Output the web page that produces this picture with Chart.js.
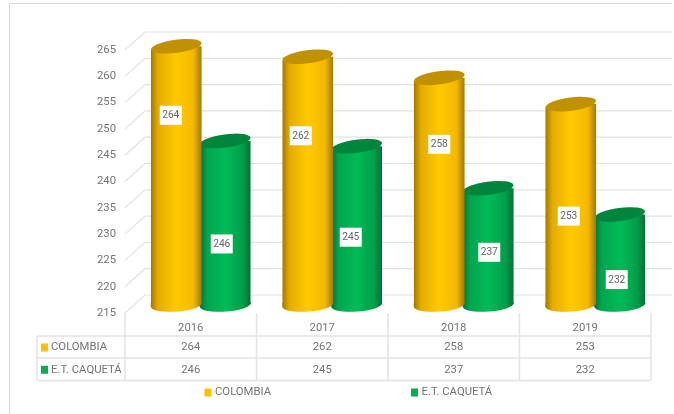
<!DOCTYPE html>
<html><head><meta charset="utf-8">
<style>html,body{margin:0;padding:0;background:#fff}#w{position:relative;width:674px;height:414px}canvas{display:block;filter:blur(.35px)}</style>
<script src="https://cdn.jsdelivr.net/npm/chart.js@4"></script>
</head><body><div id="w"><canvas id="c" width="674" height="414"></canvas></div>
<script>
const categories = ['2016', '2017', '2018', '2019'];
const colombia = [264, 262, 258, 253];
const caqueta = [246, 245, 237, 232];
const seriesNames = ['COLOMBIA', 'E.T. CAQUETÁ'];
const yTicks = [215, 220, 225, 230, 235, 240, 245, 250, 255, 260, 265];

const FONT = 'Roboto,sans-serif';
const TXT = '#757575';
const GRID = '#e2e2e2';
const depthX = 20, depthY = 18;                 // front plane → back wall
const midX = depthX / 2, midY = depthY / 2;     // front plane → bar plane
const rx = 25.5, ry = 6.6, tilt = -0.13;
const groupOffset = 24.5;
const labelNudge = [                            // hand-placed value boxes [dx, dy from top]
  [[-5.5, 69], [-7, 79], [0, 66.5], [-2, 112]],
  [[-3.5, 103], [-6, 91], [1, 64], [-3, 65]]
];
const looks = [
  { keys: ['#a07800', '#e4ac00', '#ffca00', '#f4b800', '#a07800'], top: '#c09200', key: '#ffc000' },
  { keys: ['#00703a', '#00a54e', '#00bb57', '#009e4a', '#006f36'], top: '#00853d', key: '#00b050' }
];

function gradientFor(chart, d, i) {
  const px = chart.scales.x ? chart.scales.x.getPixelForValue(i) : NaN;
  if (!Number.isFinite(px)) return looks[d].key;
  const cx = px + (d === 0 ? -groupOffset : groupOffset);
  const g = chart.ctx.createLinearGradient(cx - rx, 0, cx + rx, 0);
  const k = looks[d].keys;
  g.addColorStop(0, k[0]); g.addColorStop(0.14, k[1]); g.addColorStop(0.5, k[2]);
  g.addColorStop(0.84, k[3]); g.addColorStop(1, k[4]);
  return g;
}

const scene = {
  id: 'scene',
  beforeDatasetsDraw(chart) {
    const { ctx, scales: { x, y }, chartArea: a } = chart;
    ctx.save();
    // outer frame
    ctx.strokeStyle = '#dcdcdc'; ctx.lineWidth = 1;
    ctx.beginPath(); ctx.moveTo(9.5, 414); ctx.lineTo(9.5, 3.5); ctx.lineTo(672, 3.5); ctx.stroke();
    // wall grid lines
    ctx.strokeStyle = GRID; ctx.lineWidth = 1.2;
    y.ticks.forEach(t => {
      const py = y.getPixelForValue(t.value);
      ctx.beginPath();
      ctx.moveTo(a.left, py);
      ctx.lineTo(a.left + depthX, py - depthY);
      ctx.lineTo(672, py - depthY);
      ctx.stroke();
    });
    // data table
    const left = 37, rows = [336, 358, 380.5];
    ctx.strokeStyle = '#e3e3e3'; ctx.lineWidth = 1.5;
    ctx.beginPath();
    rows.forEach(r => { ctx.moveTo(left, r); ctx.lineTo(a.right, r); });
    ctx.moveTo(left, rows[0]); ctx.lineTo(left, rows[2]);
    const cw = (a.right - a.left) / categories.length;
    for (let i = 0; i <= categories.length; i++) {
      ctx.moveTo(a.left + cw * i, a.bottom); ctx.lineTo(a.left + cw * i, rows[2]);
    }
    ctx.stroke();
    ctx.font = '11.3px ' + FONT; ctx.textBaseline = 'middle';
    [colombia, caqueta].forEach((vals, d) => {
      const cy = (rows[d] + rows[d + 1]) / 2 + 0.5;
      ctx.fillStyle = looks[d].key; ctx.fillRect(41, cy - 4, 7, 8);
      ctx.fillStyle = TXT; ctx.textAlign = 'left';
      ctx.fillText(seriesNames[d], 51, cy);
      ctx.textAlign = 'center';
      vals.forEach((v, i) => ctx.fillText(String(v), x.getPixelForValue(i), cy));
    });
    // legend
    const lx = [204.5, 411], ly = 392.5;
    seriesNames.forEach((n, d) => {
      ctx.fillStyle = looks[d].key; ctx.fillRect(lx[d], ly - 4, 7, 8);
      ctx.fillStyle = TXT; ctx.textAlign = 'left';
      ctx.fillText(n, lx[d] + 10.5, ly);
    });
    ctx.restore();
    ctx.save();
    ctx.translate(midX, -midY);
  },
  beforeDatasetDraw(chart, args) {
    const { ctx } = chart;
    const bars = chart.getDatasetMeta(args.index).data;
    ctx.save();
    ctx.beginPath();
    bars.forEach(b => {
      const l = b.x - rx, r = b.x + rx, s = Math.tan(-tilt) * rx;
      ctx.moveTo(l, b.y + s); ctx.lineTo(r, b.y - s);
      ctx.lineTo(r, b.base + 1); ctx.lineTo(l, b.base + 1); ctx.closePath();
    });
    ctx.clip();
  },
  afterDatasetDraw(chart, args) {
    const { ctx } = chart;
    ctx.restore();
    const d = args.index;
    const baseTilt = -0.07, drop = 1;
    chart.getDatasetMeta(d).data.forEach((b, i) => {
      const cy = b.base + drop, s = Math.sin(-baseTilt) * rx;
      ctx.fillStyle = gradientFor(chart, d, i);
      ctx.beginPath();
      ctx.moveTo(b.x - rx, b.base - 1); ctx.lineTo(b.x + rx, b.base - 1);
      ctx.lineTo(b.x + rx, cy - s); ctx.lineTo(b.x - rx, cy + s); ctx.closePath();
      ctx.fill();
      ctx.beginPath(); ctx.ellipse(b.x, cy, rx, ry, baseTilt, 0, Math.PI * 2); ctx.fill();
      ctx.fillStyle = looks[d].top;
      ctx.beginPath(); ctx.ellipse(b.x, b.y, rx, ry, tilt, 0, Math.PI * 2); ctx.fill();
    });
  },
  afterDatasetsDraw(chart) {
    const { ctx } = chart;
    ctx.font = '10.2px ' + FONT; ctx.textAlign = 'center'; ctx.textBaseline = 'middle';
    chart.data.datasets.forEach((ds, d) => {
      chart.getDatasetMeta(d).data.forEach((b, i) => {
        const [dx, dy] = labelNudge[d][i];
        const cx = b.x + dx, cy = b.y + dy;
        ctx.fillStyle = '#fff'; ctx.fillRect(cx - 11, cy - 9.5, 22, 19);
        ctx.fillStyle = '#666'; ctx.fillText(String(ds.data[i]), cx, cy + 0.5);
      });
    });
    ctx.restore();
  }
};

new Chart(document.getElementById('c'), {
  type: 'bar',
  plugins: [scene],
  data: {
    labels: categories,
    datasets: [
      { label: seriesNames[0], data: colombia },
      { label: seriesNames[1], data: caqueta }
    ].map((ds, d) => ({
      ...ds,
      base: yTicks[0],
      clip: false,
      categoryPercentage: 0.745,
      barPercentage: 1.04,
      backgroundColor: c => gradientFor(c.chart, d, c.dataIndex)
    }))
  },
  options: {
    responsive: false,
    animation: false,
    layout: { padding: { left: 0, right: 23, top: 50, bottom: 0 } },
    plugins: { legend: { display: false }, tooltip: { enabled: false } },
    scales: {
      x: {
        grid: { display: false, drawTicks: false }, border: { display: false },
        ticks: { color: TXT, font: { family: FONT, size: 11.3 }, padding: 8, maxRotation: 0 },
        afterFit(s) { s.height = 101; s.paddingLeft = 0; s.paddingRight = 0; }
      },
      y: {
        min: yTicks[0], max: yTicks[yTicks.length - 1],
        grid: { display: false, drawTicks: false }, border: { display: false },
        afterBuildTicks(s) { s.ticks = yTicks.map(v => ({ value: v })); },
        ticks: { color: TXT, font: { family: FONT, size: 11.3 }, padding: 9 },
        afterFit(s) { s.width = 125; s.paddingTop = 0; s.paddingBottom = 0; }
      }
    }
  }
});
</script></body></html>
